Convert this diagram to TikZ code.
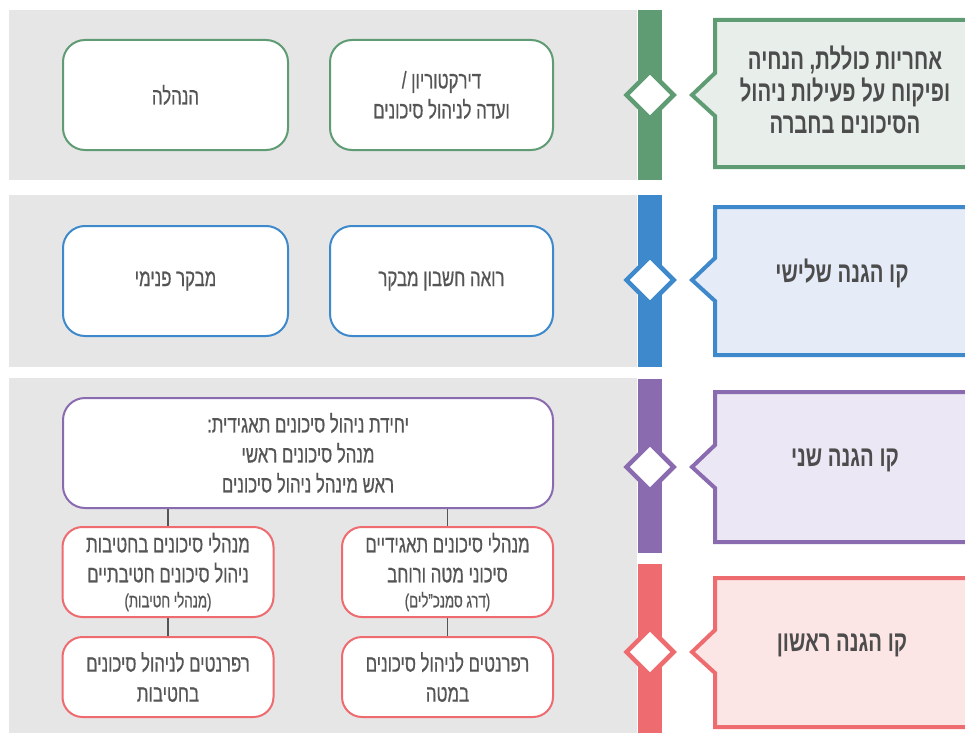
\documentclass[tikz,border=0pt]{standalone}
\usepackage{fontspec}
\setmainfont[Script=Hebrew,FakeStretch=0.7]{Liberation Sans}
\newfontfamily\boxfont[Script=Hebrew,FakeStretch=0.7,FakeBold=0.6]{Liberation Sans}
\usetikzlibrary{shapes.geometric}
\TeXXeTstate=1
\newcommand{\rtlline}[1]{\beginR #1\endR}
\definecolor{panelgray}{HTML}{E6E6E7}
\definecolor{linegreen}{HTML}{5F9C73}
\definecolor{lineblue}{HTML}{3E89CB}
\definecolor{linepurple}{HTML}{8A6BB0}
\definecolor{linered}{HTML}{EE6B70}
\definecolor{fillgreen}{HTML}{E8EEEA}
\definecolor{fillblue}{HTML}{E5ECF8}
\definecolor{fillpurple}{HTML}{ECE7F4}
\definecolor{fillred}{HTML}{FCE6E5}
\definecolor{textgray}{HTML}{555555}
\begin{document}
\begin{tikzpicture}[x=1pt,y=-1pt,
  orgbox/.style={draw=#1,line width=2pt,fill=white,rounded corners=22pt,text=textgray,
    font=\boxfont\fontsize{24}{30}\selectfont,align=center,inner sep=0pt},
  smallbox/.style={orgbox=#1,rounded corners=20pt,minimum width=211pt},
  marker/.style={diamond,draw=#1,line width=4.5pt,fill=white,minimum size=49pt,inner sep=0pt},
  linelabel/.style={text=textgray!90!black,font=\bfseries\fontsize{29}{32}\selectfont,align=center},
  link/.style={draw=textgray,line width=1.6pt}]
\useasboundingbox (0,0) rectangle (965,733);
\fill[panelgray] (9,10) rectangle (637,180);
\fill[panelgray] (9,195) rectangle (637,367);
\fill[panelgray] (9,378) rectangle (637,733);

\foreach \n/\c/\ya/\yb/\ym/\ta/\tb in {g/green/10/180/95/20/167, b/blue/195/367/280/207/355,
    p/purple/379/553/467/392/542, r/red/564/733/652/578/727}{
  \fill[line\c] (638,\ya) rectangle (662,\yb);
  \node[marker=line\c] (d\n) at (650,\ym) {};
  \draw[line\c,fill=fill\c,line width=4pt] (975,\ta) -- (715,\ta) -- (715,\ym-22)
    -- (692,\ym) -- (715,\ym+21) -- (715,\tb) -- (975,\tb);
}

\node[linelabel] (lg) at (845,90) {\rtlline{אחריות כוללת, הנחיה}\\ \rtlline{ופיקוח על פעילות ניהול}\\ \rtlline{הסיכונים בחברה}};
\node[linelabel] (lb) at (842,273) {\rtlline{קו הגנה שלישי}};
\node[linelabel] (lp) at (845,460) {\rtlline{קו הגנה שני}};
\node[linelabel] (lr) at (842,645) {\rtlline{קו הגנה ראשון}};

\node[orgbox=linegreen,minimum width=225pt,minimum height=110pt] (mgmt) at (175.5,95) {\rtlline{הנהלה}};
\node[orgbox=linegreen,minimum width=223pt,minimum height=110pt] (board) at (441.5,95) {\rtlline{דירקטוריון /}\\ \rtlline{ועדה לניהול סיכונים}};
\node[orgbox=lineblue,minimum width=225pt,minimum height=110pt] (audit) at (175.5,281) {\rtlline{מבקר פנימי}};
\node[orgbox=lineblue,minimum width=223pt,minimum height=110pt] (cpa) at (441.5,281) {\rtlline{רואה חשבון מבקר}};
\node[orgbox=linepurple,minimum width=490pt,minimum height=110pt] (unit) at (308,453) {\rtlline{יחידת ניהול סיכונים תאגידית:}\\ \rtlline{מנהל סיכונים ראשי}\\ \rtlline{ראש מינהל ניהול סיכונים}};
\node[smallbox=linered,minimum height=90pt] (divmgr) at (168,572) {\rtlline{מנהלי סיכונים בחטיבות}\\ \rtlline{ניהול סיכונים חטיבתיים}\\[-5pt] \rtlline{\fontsize{19}{22}\selectfont (מנהלי חטיבות)}};
\node[smallbox=linered,minimum height=90pt] (corpmgr) at (447.5,572) {\rtlline{מנהלי סיכונים תאגידיים}\\ \rtlline{סיכוני מטה ורוחב}\\[-5pt] \rtlline{\fontsize{19}{22}\selectfont (דרג סמנכ”לים)}};
\node[smallbox=linered,minimum height=80pt] (divref) at (168,677) {\rtlline{רפרנטים לניהול סיכונים}\\ \rtlline{בחטיבות}};
\node[smallbox=linered,minimum height=80pt] (hqref) at (447.5,677) {\rtlline{רפרנטים לניהול סיכונים}\\ \rtlline{במטה}};

\draw[link] (divmgr.north |- unit.south) -- (divmgr);
\draw[link] (corpmgr.north |- unit.south) -- (corpmgr);
\draw[link] (divmgr) -- (divref);
\draw[link] (corpmgr) -- (hqref);
\end{tikzpicture}
\end{document}
